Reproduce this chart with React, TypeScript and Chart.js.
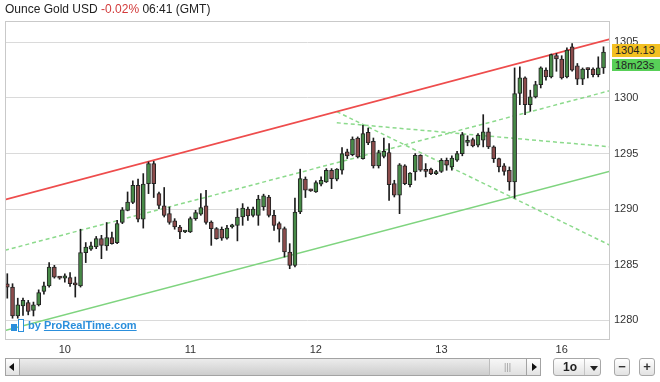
import React, { useEffect, useRef } from "react";
import { Chart, registerables } from "chart.js";

Chart.register(...registerables);

// ---- data (hourly candles, index 0..114) ----
const opens = [
  1283.3, 1283.0, 1280.4, 1281.3, 1281.6, 1280.9, 1281.4, 1282.6, 1283.1, 1284.8,
  1283.9, 1283.8, 1283.85, 1283.3, 1283.1, 1286.1, 1286.4, 1286.6, 1287.35, 1286.7,
  1287.45, 1287.0, 1288.8, 1289.9, 1290.6, 1292.15, 1289.1, 1292.3, 1294.1, 1291.4,
  1290.3, 1289.6, 1288.95, 1288.4, 1287.95, 1287.95, 1289.15, 1289.55, 1290.3, 1288.85,
  1288.25, 1288.2, 1287.4, 1288.4, 1288.55, 1289.3, 1290.0, 1289.45, 1289.45, 1290.2,
  1291.1, 1289.45, 1288.7, 1288.25, 1286.15, 1284.95, 1289.75, 1292.7, 1291.7, 1291.55,
  1292.25, 1292.45, 1293.5, 1292.7, 1293.5, 1295.15, 1294.9, 1296.4, 1294.55, 1296.9,
  1296.1, 1293.9, 1294.75, 1295.1, 1292.3, 1291.25, 1293.9, 1292.2, 1293.35, 1294.85,
  1293.5, 1293.6, 1293.2, 1293.4, 1294.4, 1293.8, 1294.4, 1295.0, 1296.0, 1296.25,
  1295.75, 1296.2, 1296.95, 1295.6, 1294.55, 1293.9, 1293.5, 1292.45, 1300.4, 1301.8,
  1299.4, 1300.1, 1301.2, 1302.5, 1301.9, 1303.8, 1303.5, 1301.9, 1304.6, 1302.9,
  1301.7, 1302.6, 1302.6, 1302.1, 1302.7,
];
const highs = [
  1284.2, 1283.3, 1282.0, 1282.0, 1281.8, 1281.65, 1282.75, 1283.45, 1285.2, 1284.95,
  1283.95, 1284.2, 1284.3, 1283.9, 1288.2, 1287.0, 1287.05, 1287.55, 1287.65, 1288.8,
  1287.95, 1289.0, 1290.15, 1291.55, 1292.55, 1292.7, 1293.2, 1294.25, 1294.3, 1291.55,
  1291.95, 1290.2, 1289.15, 1288.55, 1288.05, 1289.3, 1289.9, 1291.4, 1291.7, 1288.95,
  1288.35, 1288.4, 1288.55, 1288.65, 1290.05, 1290.5, 1290.2, 1290.2, 1291.25, 1291.35,
  1291.25, 1289.9, 1288.85, 1288.4, 1286.9, 1291.0, 1293.6, 1292.9, 1291.8, 1292.55,
  1292.9, 1293.65, 1293.65, 1293.65, 1295.55, 1295.4, 1296.5, 1296.5, 1297.55, 1297.3,
  1296.4, 1295.3, 1296.4, 1295.9, 1292.6, 1294.1, 1294.0, 1293.3, 1295.0, 1294.9,
  1294.1, 1293.7, 1293.5, 1294.55, 1294.6, 1294.8, 1295.2, 1296.9, 1296.6, 1296.4,
  1296.8, 1298.5, 1297.3, 1295.7, 1294.6, 1294.1, 1293.8, 1302.7, 1302.8, 1301.9,
  1300.7, 1301.5, 1302.8, 1302.7, 1303.95, 1304.0, 1303.8, 1304.5, 1304.9, 1303.1,
  1302.7, 1302.7, 1302.7, 1303.7, 1304.6,
];
const lows = [
  1282.0, 1280.2, 1280.2, 1280.45, 1280.5, 1280.4, 1281.3, 1282.35, 1283.0, 1283.8,
  1283.7, 1283.45, 1283.05, 1282.1, 1283.0, 1285.2, 1286.3, 1286.45, 1285.55, 1286.3,
  1286.85, 1286.9, 1288.7, 1289.85, 1290.5, 1288.85, 1288.3, 1291.4, 1291.05, 1290.05,
  1289.3, 1288.65, 1288.2, 1287.35, 1287.9, 1287.9, 1289.0, 1289.45, 1288.65, 1286.75,
  1287.3, 1287.2, 1287.3, 1288.3, 1287.15, 1288.55, 1289.0, 1289.3, 1288.55, 1289.9,
  1289.3, 1288.1, 1287.05, 1285.7, 1284.65, 1284.8, 1289.6, 1291.05, 1291.6, 1291.5,
  1292.1, 1292.4, 1291.85, 1292.55, 1293.15, 1294.55, 1294.8, 1294.6, 1294.5, 1295.8,
  1293.7, 1293.7, 1294.6, 1290.8, 1291.1, 1289.6, 1292.2, 1292.0, 1292.6, 1293.4,
  1292.9, 1293.1, 1293.1, 1293.3, 1293.5, 1293.5, 1294.3, 1294.8, 1295.7, 1295.6,
  1295.6, 1295.6, 1295.45, 1294.2, 1293.35, 1293.05, 1291.7, 1291.0, 1299.4, 1298.5,
  1298.8, 1300.0, 1300.9, 1301.6, 1301.8, 1302.4, 1301.7, 1301.8, 1302.4, 1301.2,
  1301.2, 1301.8, 1301.9, 1301.9, 1302.2,
];
const closes = [
  1283.0, 1280.4, 1281.4, 1281.8, 1280.8, 1281.4, 1282.5, 1283.1, 1284.8, 1283.9,
  1283.8, 1284.0, 1283.3, 1283.2, 1286.1, 1286.6, 1286.7, 1287.35, 1286.75, 1287.45,
  1286.9, 1288.7, 1289.95, 1290.65, 1292.15, 1289.1, 1292.25, 1294.1, 1292.3, 1290.35,
  1289.45, 1288.8, 1288.4, 1287.95, 1288.0, 1289.15, 1289.7, 1290.15, 1288.8, 1288.25,
  1287.35, 1287.4, 1288.3, 1288.6, 1289.3, 1290.1, 1289.4, 1290.0, 1290.9, 1291.2,
  1289.45, 1288.55, 1288.2, 1286.15, 1284.95, 1289.75, 1292.75, 1291.7, 1291.65, 1292.4,
  1292.6, 1293.5, 1292.75, 1293.6, 1295.0, 1294.8, 1296.3, 1294.7, 1296.8, 1295.95,
  1293.9, 1295.1, 1295.2, 1292.2, 1291.25, 1294.0, 1292.3, 1293.25, 1294.85, 1293.5,
  1293.4, 1293.2, 1293.35, 1294.4, 1293.95, 1294.6, 1295.0, 1296.7, 1296.2, 1295.7,
  1296.65, 1296.95, 1295.6, 1294.55, 1293.8, 1293.4, 1292.45, 1300.4, 1301.8, 1299.4,
  1300.1, 1301.2, 1302.7, 1301.9, 1303.9, 1303.5, 1301.8, 1304.3, 1302.5, 1301.7,
  1302.6, 1302.55, 1302.1, 1302.7, 1304.13,
];

const dayTickIndex = [11, 35, 59, 83, 106];
const dayLabels = ["10", "11", "12", "13", "16"];
const priceTicks = [1280, 1285, 1290, 1295, 1300, 1305];
const xRange = [-0.44, 115.24];
const yRange = [1278.24, 1306.92];

// trend lines (index, price)
const channelX = [-0.44, 115.24];
const redChannel = [1290.86, 1305.29];
const greenChannel = [1279.1, 1293.42];
const midChannel = [1286.31, 1300.66];
const fanX = [63, 115.24];
const fanSteep = [1298.77, 1286.76];
const fanFlat = [1297.77, 1295.61];

const lastPrice = "1304.13";
const countdown = "18m23s";

const FONT = '"Liberation Sans", Arial, Helvetica, sans-serif';

const plotBorder = {
  id: "plotBorder",
  afterDraw(chart: any) {
    const { ctx, chartArea: a } = chart;
    ctx.save();
    ctx.strokeStyle = "#c9c9c9";
    ctx.lineWidth = 1;
    ctx.strokeRect(a.left + 0.5, a.top + 0.5, a.right - a.left - 1, a.bottom - a.top - 1);
    ctx.restore();
  },
};

function ChartCanvas() {
  const ref = useRef<HTMLCanvasElement | null>(null);
  useEffect(() => {
    if (!ref.current) return;
    const idx = closes.map((_, i) => i);
    const up = idx.map((i) => closes[i] >= opens[i]);
    const line = (xs: number[], ys: number[], color: string, dash: number[] | undefined, width: number) => ({
      type: "line" as const,
      data: xs.map((x, k) => ({ x, y: ys[k] })),
      borderColor: color,
      borderWidth: width,
      borderDash: dash,
      pointRadius: 0,
      fill: false,
      order: 10,
    });
    const chart = new Chart(ref.current, {
      type: "bar",
      data: {
        datasets: [
          line(channelX, redChannel, "#ee4c4c", undefined, 1.6) as any,
          line(channelX, greenChannel, "#7fd47f", undefined, 1.5) as any,
          line(channelX, midChannel, "#8cda8c", [4, 3], 1.5) as any,
          line(fanX, fanSteep, "#8cda8c", [4, 3], 1.5) as any,
          line(fanX, fanFlat, "#8cda8c", [4, 3], 1.5) as any,
          {
            type: "bar",
            data: idx.map((i) => ({ x: i, y: [lows[i], highs[i]] })) as any,
            backgroundColor: "#1c1c1c",
            barThickness: 1,
            grouped: false,
            order: 2,
          },
          {
            type: "bar",
            data: idx.map((i) => ({
              x: i,
              y: [Math.min(opens[i], closes[i]), Math.max(opens[i], closes[i])],
            })) as any,
            backgroundColor: up.map((u) => (u ? "#478a47" : "#8c4c4c")),
            borderColor: "#232323",
            borderWidth: 1,
            borderSkipped: false,
            barThickness: 4,
            minBarLength: 2,
            grouped: false,
            order: 1,
          },
        ],
      },
      options: {
        animation: false,
        responsive: false,
        devicePixelRatio: 1,
        events: [],
        layout: { padding: { left: 5, top: 21, right: 0, bottom: 0 } },
        plugins: { legend: { display: false }, tooltip: { enabled: false }, title: { display: false } },
        scales: {
          x: {
            type: "linear",
            min: xRange[0],
            max: xRange[1],
            offset: false,
            bounds: "data",
            grid: { display: false, drawTicks: false },
            border: { display: false },
            ticks: {
              autoSkip: false,
              maxRotation: 0,
              padding: 3,
              color: "#333",
              font: { family: FONT, size: 11 },
              callback: (_v: any, i: number) => dayLabels[i],
            },
            afterBuildTicks: (s: any) => {
              s.ticks = dayTickIndex.map((v) => ({ value: v }));
            },
            afterFit: (s: any) => {
              s.height = 42;
            },
          },
          y: {
            type: "linear",
            position: "right",
            min: yRange[0],
            max: yRange[1],
            bounds: "data",
            grid: { color: "#dadada", lineWidth: 1, drawTicks: false },
            border: { display: false },
            ticks: {
              padding: 4,
              color: "#333",
              font: { family: FONT, size: 11 },
              callback: (v: any) => String(v),
            },
            afterBuildTicks: (s: any) => {
              s.ticks = priceTicks.map((v) => ({ value: v }));
            },
            afterFit: (s: any) => {
              s.width = 50;
            },
          },
        },
      } as any,
      plugins: [plotBorder],
    });
    return () => chart.destroy();
  }, []);
  return <canvas ref={ref} width={660} height={382} style={{ display: "block", width: 660, height: 382 }} />;
}

const abs = (l: number, t: number, w: number, h: number, extra: React.CSSProperties = {}): React.CSSProperties => ({
  position: "absolute",
  left: l,
  top: t,
  width: w,
  height: h,
  boxSizing: "border-box",
  ...extra,
});

const btnGrad = "linear-gradient(#ffffff, #e2e2e2)";

export default function App() {
  return (
    <div style={{ position: "absolute", left: 0, top: 0, width: 660, height: 382, background: "#fff", overflow: "hidden", fontFamily: FONT }}>
      <ChartCanvas />
      {/* title */}
      <div style={{ position: "absolute", left: 5, top: 2, fontSize: 12, color: "#222", whiteSpace: "nowrap", lineHeight: "14px" }}>
        Ounce Gold USD <span style={{ color: "#d23a3a" }}>-0.02%</span> 06:41 (GMT)
      </div>
      {/* last price & countdown */}
      <div style={abs(612, 44, 48, 13, { background: "#f3c022", fontSize: 11, lineHeight: "13px", paddingLeft: 3, color: "#222" })}>{lastPrice}</div>
      <div style={abs(612, 59, 48, 12, { background: "#58d058", fontSize: 11, lineHeight: "12px", paddingLeft: 3, color: "#222" })}>{countdown}</div>
      {/* watermark */}
      <div style={abs(11, 324, 6, 7, { background: "#2b8fdc" })} />
      <div style={abs(18, 319, 6, 13, { border: "1px solid #2b8fdc", background: "#fff" })} />
      <div style={{ position: "absolute", left: 28, top: 318, fontSize: 11, fontWeight: "bold", color: "#2b8fdc", whiteSpace: "nowrap", lineHeight: "14px" }}>
        by <span style={{ textDecoration: "underline" }}>ProRealTime.com</span>
      </div>
      {/* scrollbar */}
      <div style={abs(5, 358, 536, 18, { border: "1px solid #a3a3a3", background: "linear-gradient(#ececec, #cdcdcd)" })} />
      <div style={abs(5, 358, 15, 18, { border: "1px solid #a3a3a3", background: btnGrad })} />
      <div style={{ position: "absolute", left: 9, top: 363, width: 0, height: 0, borderTop: "4px solid transparent", borderBottom: "4px solid transparent", borderRight: "5px solid #111" }} />
      <div style={abs(489, 358, 38, 18, { borderTop: "1px solid #a3a3a3", borderBottom: "1px solid #a3a3a3", borderLeft: "1px solid #bdbdbd", background: "linear-gradient(#f7f7f7, #e0e0e0)" })} />
      <div style={{ position: "absolute", left: 504, top: 362, fontSize: 9, color: "#9a9a9a", letterSpacing: 0, lineHeight: "10px" }}>|||</div>
      <div style={abs(526, 358, 15, 18, { border: "1px solid #a3a3a3", background: btnGrad })} />
      <div style={{ position: "absolute", left: 532, top: 363, width: 0, height: 0, borderTop: "4px solid transparent", borderBottom: "4px solid transparent", borderLeft: "5px solid #111" }} />
      <div style={abs(553, 358, 48, 18, { border: "1px solid #a8a8a8", borderRadius: 3, background: btnGrad })} />
      <div style={{ position: "absolute", left: 563, top: 360, fontSize: 12, fontWeight: "bold", color: "#222", lineHeight: "14px" }}>1o</div>
      <div style={abs(584, 359, 1, 16, { background: "#c4c4c4" })} />
      <div style={{ position: "absolute", left: 590, top: 366, width: 0, height: 0, borderLeft: "4px solid transparent", borderRight: "4px solid transparent", borderTop: "5px solid #222" }} />
      <div style={abs(614, 358, 16, 18, { border: "1px solid #a8a8a8", borderRadius: 3, background: btnGrad, textAlign: "center", fontSize: 13, lineHeight: "15px", color: "#333", fontWeight: "bold" })}>−</div>
      <div style={abs(639, 358, 16, 18, { border: "1px solid #a8a8a8", borderRadius: 3, background: btnGrad, textAlign: "center", fontSize: 13, lineHeight: "15px", color: "#333", fontWeight: "bold" })}>+</div>
    </div>
  );
}
